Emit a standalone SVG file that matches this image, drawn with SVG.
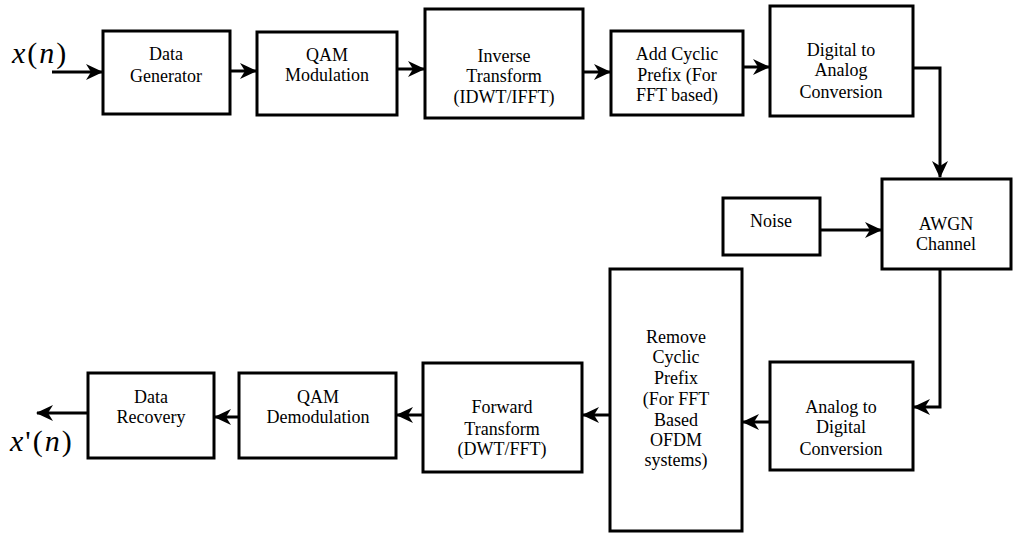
<svg xmlns="http://www.w3.org/2000/svg" width="1014" height="533" viewBox="0 0 1014 533">
  <style>
    .box { fill: #fff; stroke: #000; stroke-width: 3; }
    .wire { fill: none; stroke: #000; stroke-width: 3; }
    text { font-family: 'Liberation Serif', 'DejaVu Serif', serif; fill: #000; }
    .lbl { font-size: 18px; text-anchor: middle; }
    .sig { font-size: 30px; letter-spacing: 2px; }
    .it { font-style: italic; }
  </style>
  <defs>
    <marker id="arrow" markerUnits="userSpaceOnUse" markerWidth="17" markerHeight="16" viewBox="0 0 17 16" refX="16" refY="8" orient="auto">
      <path d="M0,0 L17,8 L0,16 L5,8 Z" fill="#000"/>
    </marker>
  </defs>
  <rect width="1014" height="533" fill="#fff"/>

  <!-- signal labels -->
  <text class="sig" x="12" y="63"><tspan class="it">x</tspan>(<tspan class="it">n</tspan>)</text>
  <text class="sig" x="10" y="451"><tspan class="it">x</tspan>'(<tspan class="it">n</tspan>)</text>

  <!-- connectors -->
  <g id="connectors">
    <path class="wire" d="M52,72 H102" marker-end="url(#arrow)"/>
    <path class="wire" d="M230,71 H256" marker-end="url(#arrow)"/>
    <path class="wire" d="M397,69 H424" marker-end="url(#arrow)"/>
    <path class="wire" d="M583,72 H610" marker-end="url(#arrow)"/>
    <path class="wire" d="M743,67 H769" marker-end="url(#arrow)"/>
    <path class="wire" d="M913,68 H940 V177" marker-end="url(#arrow)"/>
    <path class="wire" d="M820,230 H881" marker-end="url(#arrow)"/>
    <path class="wire" d="M940,269 V407 H914" marker-end="url(#arrow)"/>
    <path class="wire" d="M770,422 H743" marker-end="url(#arrow)"/>
    <path class="wire" d="M610,415 H583" marker-end="url(#arrow)"/>
    <path class="wire" d="M423,415 H397" marker-end="url(#arrow)"/>
    <path class="wire" d="M239,417 H215" marker-end="url(#arrow)"/>
    <path class="wire" d="M88,413 H37" marker-end="url(#arrow)"/>
  </g>

  <g id="data-generator">
    <rect class="box" x="103" y="31" width="127" height="83"/>
    <text class="lbl" x="166" y="60">Data</text>
    <text class="lbl" x="166" y="82">Generator</text>
  </g>
  <g id="qam-modulation">
    <rect class="box" x="257" y="32" width="140" height="83"/>
    <text class="lbl" x="327" y="61">QAM</text>
    <text class="lbl" x="327" y="81">Modulation</text>
  </g>
  <g id="inverse-transform">
    <rect class="box" x="425" y="9" width="158" height="109"/>
    <text class="lbl" x="504" y="62">Inverse</text>
    <text class="lbl" x="504" y="82">Transform</text>
    <text class="lbl" x="504" y="103">(IDWT/IFFT)</text>
  </g>
  <g id="add-cyclic-prefix">
    <rect class="box" x="611" y="31" width="132" height="84"/>
    <text class="lbl" x="677" y="60">Add Cyclic</text>
    <text class="lbl" x="677" y="81">Prefix (For</text>
    <text class="lbl" x="677" y="101">FFT based)</text>
  </g>
  <g id="digital-to-analog">
    <rect class="box" x="770" y="6" width="143" height="110"/>
    <text class="lbl" x="841" y="56">Digital to</text>
    <text class="lbl" x="841" y="76">Analog</text>
    <text class="lbl" x="841" y="98">Conversion</text>
  </g>
  <g id="noise">
    <rect class="box" x="723" y="198" width="97" height="57"/>
    <text class="lbl" x="771" y="227">Noise</text>
  </g>
  <g id="awgn-channel">
    <rect class="box" x="882" y="179" width="129" height="90"/>
    <text class="lbl" x="946" y="230">AWGN</text>
    <text class="lbl" x="946" y="250">Channel</text>
  </g>
  <g id="analog-to-digital">
    <rect class="box" x="770" y="362" width="143" height="108"/>
    <text class="lbl" x="841" y="413">Analog to</text>
    <text class="lbl" x="841" y="433">Digital</text>
    <text class="lbl" x="841" y="455">Conversion</text>
  </g>
  <g id="remove-cyclic-prefix">
    <rect class="box" x="610" y="269" width="132" height="262"/>
    <text class="lbl" x="676" y="343">Remove</text>
    <text class="lbl" x="676" y="363">Cyclic</text>
    <text class="lbl" x="676" y="384">Prefix</text>
    <text class="lbl" x="676" y="405">(For FFT</text>
    <text class="lbl" x="676" y="426">Based</text>
    <text class="lbl" x="676" y="446">OFDM</text>
    <text class="lbl" x="676" y="466">systems)</text>
  </g>
  <g id="forward-transform">
    <rect class="box" x="423" y="363" width="159" height="109"/>
    <text class="lbl" x="502" y="413">Forward</text>
    <text class="lbl" x="502" y="435">Transform</text>
    <text class="lbl" x="502" y="455">(DWT/FFT)</text>
  </g>
  <g id="qam-demodulation">
    <rect class="box" x="239" y="373" width="157" height="85"/>
    <text class="lbl" x="318" y="403">QAM</text>
    <text class="lbl" x="318" y="423">Demodulation</text>
  </g>
  <g id="data-recovery">
    <rect class="box" x="88" y="373" width="126" height="85"/>
    <text class="lbl" x="151" y="403">Data</text>
    <text class="lbl" x="151" y="423">Recovery</text>
  </g>
</svg>
